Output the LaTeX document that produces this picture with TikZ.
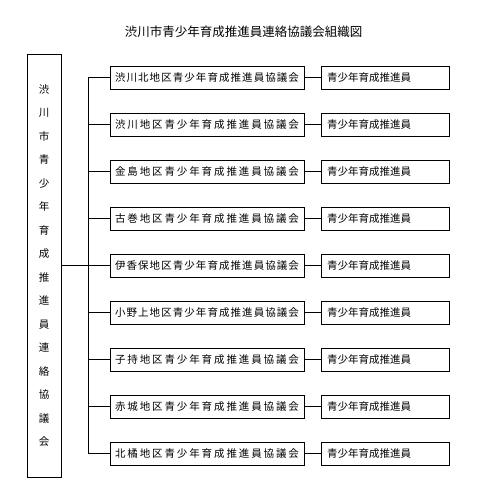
\documentclass[tikz,border=0pt]{standalone}
\usepackage{fontspec}
\newfontfamily\jp{Noto Sans CJK JP}
% spread the characters of a council name over the box
\def\spreadchars#1{#1\spreadnext}
\def\spreadnext#1{\ifx#1\relax\else\hfil#1\expandafter\spreadnext\fi}
\newcommand\spread[1]{\makebox[184pt][s]{\spreadchars#1\relax}}
\begin{document}
\begin{tikzpicture}[x=1pt,y=-1pt,line width=0.7pt, every node/.style={font=\jp\fontsize{10.5}{12}\selectfont},
    council/.style={draw, minimum width=194pt, minimum height=23pt, inner sep=0pt},
    member/.style={draw, text width=116pt, inner xsep=6pt, inner ysep=0pt, minimum height=23pt, align=left}]{
    \useasboundingbox (0,0) rectangle (485,500);
    \node (T) at (243.5,32) {\fontsize{12.5}{14}\selectfont 渋川市青少年育成推進員連絡協議会組織図};
    \node [draw, minimum width=34pt, minimum height=423pt, inner sep=0pt, align=center, font=\jp\fontsize{10.5}{23.5}\selectfont] (H) at (44,265.5)
        {渋\\川\\市\\青\\少\\年\\育\\成\\推\\進\\員\\連\\絡\\協\\議\\会};
    \node [council] (C1) at (207,77.5) {\spread{渋川北地区青少年育成推進員協議会}};
    \node [council] (C2) at (207,124.5) {\spread{渋川地区青少年育成推進員協議会}};
    \node [council] (C3) at (207,171.5) {\spread{金島地区青少年育成推進員協議会}};
    \node [council] (C4) at (207,218.5) {\spread{古巻地区青少年育成推進員協議会}};
    \node [council] (C5) at (207,265.5) {\spread{伊香保地区青少年育成推進員協議会}};
    \node [council] (C6) at (207,312.5) {\spread{小野上地区青少年育成推進員協議会}};
    \node [council] (C7) at (207,359.5) {\spread{子持地区青少年育成推進員協議会}};
    \node [council] (C8) at (207,406.5) {\spread{赤城地区青少年育成推進員協議会}};
    \node [council] (C9) at (207,453.5) {\spread{北橘地区青少年育成推進員協議会}};
    \node [member] (S1) at (385,77.5) {青少年育成推進員};
    \node [member] (S2) at (385,124.5) {青少年育成推進員};
    \node [member] (S3) at (385,171.5) {青少年育成推進員};
    \node [member] (S4) at (385,218.5) {青少年育成推進員};
    \node [member] (S5) at (385,265.5) {青少年育成推進員};
    \node [member] (S6) at (385,312.5) {青少年育成推進員};
    \node [member] (S7) at (385,359.5) {青少年育成推進員};
    \node [member] (S8) at (385,406.5) {青少年育成推進員};
    \node [member] (S9) at (385,453.5) {青少年育成推進員};
    \coordinate (top) at (88,77.5);
    \coordinate (bot) at (88,453.5);
    \path (top) edge (bot);
    \path (H.east) edge (C5.west);
    \path (C1.west) edge (C1.west -| top);
    \path (C2.west) edge (C2.west -| top);
    \path (C3.west) edge (C3.west -| top);
    \path (C4.west) edge (C4.west -| top);
    \path (C6.west) edge (C6.west -| top);
    \path (C7.west) edge (C7.west -| top);
    \path (C8.west) edge (C8.west -| top);
    \path (C9.west) edge (C9.west -| top);
    \path (C1) edge (S1);
    \path (C2) edge (S2);
    \path (C3) edge (S3);
    \path (C4) edge (S4);
    \path (C5) edge (S5);
    \path (C6) edge (S6);
    \path (C7) edge (S7);
    \path (C8) edge (S8);
    \path (C9) edge (S9);
    }
\end{tikzpicture}
\end{document}
